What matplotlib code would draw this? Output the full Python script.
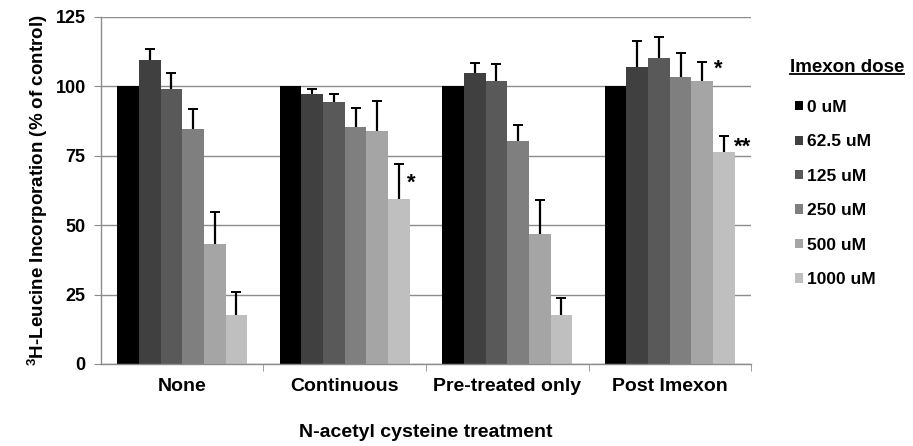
import numpy as np
import matplotlib
matplotlib.use("Agg")
import matplotlib.pyplot as plt
from matplotlib.lines import Line2D

plt.rcParams['font.family'] = ['Liberation Sans', 'DejaVu Sans']
plt.rcParams['font.weight'] = 'bold'
plt.rcParams['mathtext.fontset'] = 'custom'
plt.rcParams['mathtext.bf'] = 'Liberation Sans:bold'

# treatment groups and imexon doses
treatments = ['None', 'Continuous', 'Pre-treated only', 'Post Imexon']
doses = ['0 uM', '62.5 uM', '125 uM', '250 uM', '500 uM', '1000 uM']
colors = ['#000000', '#404040', '#595959', '#7f7f7f', '#a5a5a5', '#bfbfbf']

# mean values, one list per dose (across treatments)
dose_0 = [100, 100, 100, 100]
dose_62 = [109.5, 97.4, 105.0, 107.0]
dose_125 = [99.0, 94.2, 102.0, 110.3]
dose_250 = [84.5, 85.5, 80.2, 103.4]
dose_500 = [43.3, 83.8, 46.9, 102.0]
dose_1000 = [17.8, 59.5, 17.5, 76.4]

# upper error (SD)
err_0 = [0, 0, 0, 0]
err_62 = [4.0, 1.6, 3.5, 9.5]
err_125 = [6.0, 3.0, 6.0, 7.4]
err_250 = [7.2, 6.7, 6.0, 8.8]
err_500 = [11.3, 10.9, 12.0, 6.9]
err_1000 = [8.2, 12.4, 6.1, 5.9]

values = [dose_0, dose_62, dose_125, dose_250, dose_500, dose_1000]
errors = [err_0, err_62, err_125, err_250, err_500, err_1000]

# significance marks: (treatment, dose, label, x offset from bar centre, y level)
marks = [(1, 5, '*', 0.074, 67.0), (3, 4, '*', 0.096, 108.1), (3, 5, '**', 0.117, 80.0)]

fig = plt.figure(figsize=(9.13, 4.46), dpi=100)
ax = fig.add_axes([0.1106, 0.1839, 0.7120, 0.7780])

x = np.arange(len(treatments))
w = 0.8 / len(doses)
handles = []
for k in range(len(doses)):
    xs = x + (k - 2.5) * w
    b = ax.bar(xs, values[k], width=w, color=colors[k], zorder=2, label=doses[k])
    handles.append(b)
    if k > 0:
        tops = np.array(values[k]) + np.array(errors[k])
        # only the upper half of the error bar is shown
        ax.vlines(xs, values[k], tops, color='black', linewidth=1.6, zorder=3)
        ax.plot(xs, tops, ls='none', marker='_', markersize=7, mew=1.4,
                color='black', zorder=3)

for i, k, lab, dx, yv in marks:
    xp = x[i] + (k - 2.5) * w
    ax.text(xp + dx, yv - 1.8, lab, ha='center', va='center', fontsize=16,
            fontweight='bold')

ax.set_xlim(-0.5, 3.5)
ax.set_ylim(0, 125)
ax.set_yticks([0, 25, 50, 75, 100, 125])
ax.yaxis.grid(True, color='#8c8c8c', linewidth=1.0, zorder=0)
ax.set_axisbelow(True)
ax.set_xticks(x)
ax.set_xticklabels(treatments)
ax.set_xticks([0.5, 1.5, 2.5, 3.5], minor=True)
ax.tick_params(axis='x', which='major', length=0, pad=10, labelsize=14)
ax.tick_params(axis='x', which='minor', length=5, color='#8c8c8c', direction='out')
ax.tick_params(axis='y', length=5, color='#8c8c8c', labelsize=13, pad=6)
for s in ['top', 'right']:
    ax.spines[s].set_visible(False)
for s in ['left', 'bottom']:
    ax.spines[s].set_color('#8c8c8c')
    ax.spines[s].set_linewidth(1.0)

ax.set_xlabel('N-acetyl cysteine treatment', fontsize=14, fontweight='bold', labelpad=21)
ax.set_ylabel('$\\mathbf{^{3}}$H-Leucine Incorporation (% of control)', fontsize=13.5,
              fontweight='bold', labelpad=4)

leg = fig.legend(handles=handles, labels=doses, loc='upper left',
                 bbox_to_anchor=(795 / 913, 1 - 100 / 446), frameon=False,
                 fontsize=12.5, handlelength=0.45, handleheight=0.45,
                 handletextpad=0.25, labelspacing=1.12, borderaxespad=0,
                 borderpad=0)
for t in leg.get_texts():
    t.set_fontweight('bold')

title = fig.text(790 / 913, 1 - 68 / 446, 'Imexon dose', ha='left', va='center',
                 fontsize=13.5, fontweight='bold')
fig.canvas.draw()
bb = title.get_window_extent().transformed(fig.transFigure.inverted())
fig.add_artist(Line2D([bb.x0, bb.x1], [bb.y0 + 0.006, bb.y0 + 0.006],
                      color='black', linewidth=1.3, transform=fig.transFigure))

fig.savefig('out.png', dpi=100)
